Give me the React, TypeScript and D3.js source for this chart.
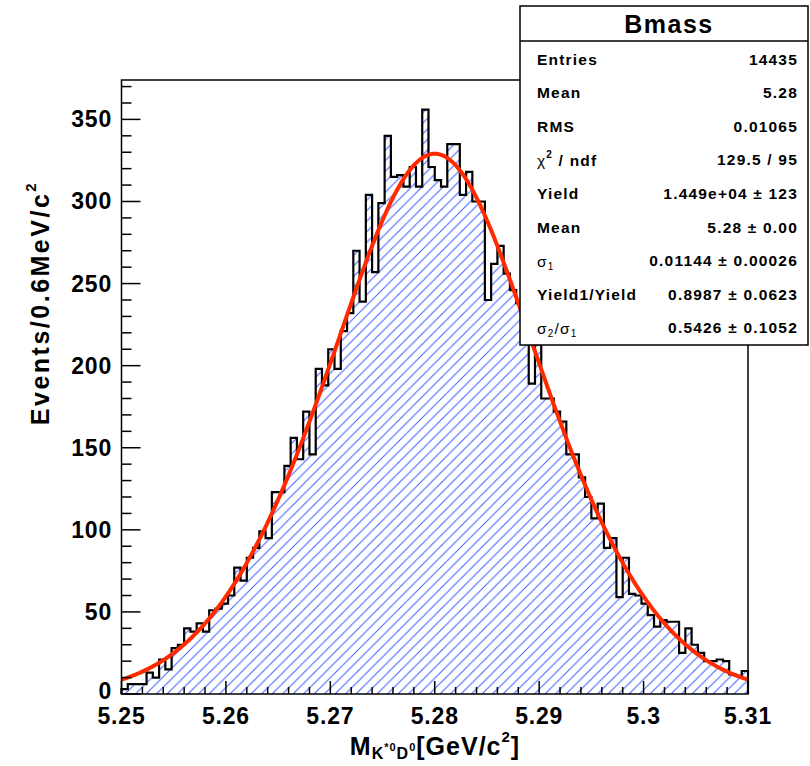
import React from 'react';
import * as d3 from 'd3';

// ---- histogram data (0.6 MeV bins from 5.25 to 5.31 GeV) ----
const binLow = 5.25;
const binHigh = 5.31;
const nBins = 100;
const counts = [
  3, 6, 6, 6, 13, 10, 21, 15, 28, 30,
  40, 38, 43, 38, 51, 52, 55, 60, 77, 69,
  83, 89, 99, 95, 123, 123, 139, 156, 143, 172,
  146, 198, 188, 210, 198, 221, 232, 270, 239, 304,
  257, 299, 340, 315, 316, 309, 321, 309, 356, 321,
  313, 309, 335, 335, 304, 318, 300, 300, 240, 262,
  273, 256, 246, 238, 228, 189, 213, 180, 180, 172,
  166, 146, 146, 132, 120, 107, 116, 89, 95, 59,
  83, 61, 60, 55, 48, 41, 45, 44, 44, 25,
  40, 30, 25, 20, 20, 21, 20, 12, 11, 14,
];

// ---- fit parameters (from the stats box) ----
const fitYield = 14490;
const fitMean = 5.28;
const fitSigma1 = 0.01144;
const fitFrac1 = 0.8987;
const fitSigmaRatio = 0.5426;

// ---- axes ----
const xTicks = [5.25, 5.26, 5.27, 5.28, 5.29, 5.3, 5.31];
const xTickLabels = ['5.25', '5.26', '5.27', '5.28', '5.29', '5.3', '5.31'];
const yTicks = [0, 50, 100, 150, 200, 250, 300, 350];
const yMax = 374;

// ---- stats box ----
const statsTitle = 'Bmass';
const statsLabels = ['Entries', 'Mean', 'RMS', 'chi', 'Yield', 'Mean', 's1', 'Yield1/Yield', 's2s1'];
const statsValues = ['14435', '5.28', '0.01065', '129.5 / 95', '1.449e+04 \u00b1 123', '5.28 \u00b1 0.00', '0.01144 \u00b1 0.00026', '0.8987 \u00b1 0.0623', '0.5426 \u00b1 0.1052'];

const FONT = 'Liberation Sans, Arial, Helvetica, sans-serif';

function gauss(m: number, mu: number, s: number) {
  return Math.exp(-0.5 * ((m - mu) / s) ** 2) / (s * Math.sqrt(2 * Math.PI));
}

export default function App() {
  const W = 810, H = 766;
  const x = d3.scaleLinear().domain([binLow, binHigh]).range([121.5, 748]);
  const y = d3.scaleLinear().domain([0, yMax]).range([694, 80]);
  const binW = (binHigh - binLow) / nBins;

  // histogram outline
  const pts: [number, number][] = [[binLow, 0]];
  counts.forEach((c, i) => {
    pts.push([binLow + i * binW, c]);
    pts.push([binLow + (i + 1) * binW, c]);
  });
  pts.push([binHigh, 0]);
  const histLine = d3.line<[number, number]>().x(p => x(p[0])).y(p => y(p[1]));
  const histPath = histLine(pts) as string;

  // fit curve
  const sigma2 = fitSigma1 * fitSigmaRatio;
  const fitFn = (m: number) =>
    fitYield * binW * (fitFrac1 * gauss(m, fitMean, fitSigma1) + (1 - fitFrac1) * gauss(m, fitMean, sigma2));
  const curvePts = d3.range(0, 401).map(k => {
    const m = binLow + (binHigh - binLow) * k / 400;
    return [m, fitFn(m)] as [number, number];
  });
  const fitPath = histLine(curvePts) as string;

  const xMinor = d3.range(0, 31).map(k => binLow + k * 0.002);
  const yMinor = d3.range(0, 38).map(k => k * 10);

  const hs = 10.5;
  const rowY0 = 59, rowDy = 33.6;
  const labelX = 537, valueX = 798;
  const sFont = 15.5, sSpace = 1.2;

  const renderLabel = (lab: string, i: number) => {
    const yy = rowY0 + i * rowDy;
    const common = { x: labelX, y: yy, dominantBaseline: 'central' as const, fontFamily: FONT, fontSize: sFont, letterSpacing: sSpace };
    if (lab === 'chi') {
      return (
        <text key={i} {...common} fontWeight="bold">
          <tspan fontWeight="normal">{'\u03c7'}</tspan>
          <tspan fontSize={10} dy={-6}>2</tspan>
          <tspan dy={6}>{' / ndf'}</tspan>
        </text>
      );
    }
    if (lab === 's1') {
      return (
        <text key={i} {...common}>
          <tspan>{'\u03c3'}</tspan>
          <tspan fontSize={10} dy={5}>1</tspan>
        </text>
      );
    }
    if (lab === 's2s1') {
      return (
        <text key={i} {...common}>
          <tspan>{'\u03c3'}</tspan>
          <tspan fontSize={10} dy={5}>2</tspan>
          <tspan dy={-5}>{'/\u03c3'}</tspan>
          <tspan fontSize={10} dy={5}>1</tspan>
        </text>
      );
    }
    return (
      <text key={i} {...common} fontWeight="bold">{lab}</text>
    );
  };

  return (
    <svg width={W} height={H} style={{ position: 'absolute', left: 0, top: 0, background: '#fff' }}>
      <defs>
        <pattern id="hatch" patternUnits="userSpaceOnUse" width={hs} height={hs}>
          <path d={`M0,${hs} L${hs},0 M-2,2 L2,-2 M${hs - 2},${hs + 2} L${hs + 2},${hs - 2}`} stroke="#3a5cff" strokeWidth={1} fill="none" />
        </pattern>
      </defs>
      <rect x={0} y={0} width={W} height={H} fill="#fff" />

      {/* hatched histogram */}
      <path d={histPath} fill="url(#hatch)" stroke="none" />
      <path d={histPath} fill="none" stroke="#000" strokeWidth={2.2} />

      {/* fit */}
      <path d={fitPath} fill="none" stroke="#ff2a00" strokeWidth={4} />

      {/* frame */}
      <rect x={x(binLow)} y={y(yMax)} width={x(binHigh) - x(binLow)} height={y(0) - y(yMax)} fill="none" stroke="#000" strokeWidth={1.5} />

      {/* x ticks */}
      {xMinor.map((t, k) => (
        <line key={'xm' + k} x1={x(t)} x2={x(t)} y1={y(0)} y2={y(0) - (k % 5 === 0 ? 13 : 7)} stroke="#000" strokeWidth={1.5} />
      ))}
      {xTicks.map((t, k) => (
        <text key={'xl' + k} x={x(t)} y={y(0) + 22} textAnchor="middle" dominantBaseline="central" fontFamily={FONT} fontWeight="bold" fontSize={23} letterSpacing={0.8}>{xTickLabels[k]}</text>
      ))}

      {/* y ticks */}
      {yMinor.map((t, k) => (
        <line key={'ym' + k} x1={x(binLow)} x2={x(binLow) + (k % 5 === 0 ? 19 : 10)} y1={y(t)} y2={y(t)} stroke="#000" strokeWidth={1.5} />
      ))}
      {yTicks.map((t, k) => (
        <text key={'yl' + k} x={112} y={y(t) - (t === 0 ? 3 : 0)} textAnchor="end" dominantBaseline="central" fontFamily={FONT} fontWeight="bold" fontSize={23} letterSpacing={0.8}>{t}</text>
      ))}

      {/* axis titles */}
      <text x={435} y={746} textAnchor="middle" dominantBaseline="central" fontFamily={FONT} fontWeight="bold" fontSize={25} letterSpacing={1}>
        <tspan>M</tspan>
        <tspan fontSize={16} dy={7}>K</tspan>
        <tspan fontSize={11} dy={-6}>*0</tspan>
        <tspan fontSize={16} dy={6}>D</tspan>
        <tspan fontSize={11} dy={-6}>0</tspan>
        <tspan dy={-1}>[GeV/c</tspan>
        <tspan fontSize={15} dy={-10}>2</tspan>
        <tspan dy={10}>]</tspan>
      </text>
      <text transform="translate(40,303) rotate(-90)" textAnchor="middle" dominantBaseline="central" fontFamily={FONT} fontWeight="bold" fontSize={25} letterSpacing={2.5}>
        <tspan>Events/0.6MeV/c</tspan>
        <tspan fontSize={15} dy={-10}>2</tspan>
      </text>

      {/* stats box */}
      <rect x={520} y={6} width={288} height={339} fill="#fff" stroke="#000" strokeWidth={1.5} />
      <line x1={520} x2={808} y1={41} y2={41} stroke="#000" strokeWidth={1.5} />
      <text x={669} y={24} textAnchor="middle" dominantBaseline="central" fontFamily={FONT} fontWeight="bold" fontSize={25} letterSpacing={1.5}>{statsTitle}</text>
      {statsLabels.map((lab, i) => renderLabel(lab, i))}
      {statsValues.map((v, i) => (
        <text key={'sv' + i} x={valueX} y={rowY0 + i * rowDy} textAnchor="end" dominantBaseline="central" fontFamily={FONT} fontWeight="bold" fontSize={sFont} letterSpacing={sSpace}>{v}</text>
      ))}
    </svg>
  );
}
